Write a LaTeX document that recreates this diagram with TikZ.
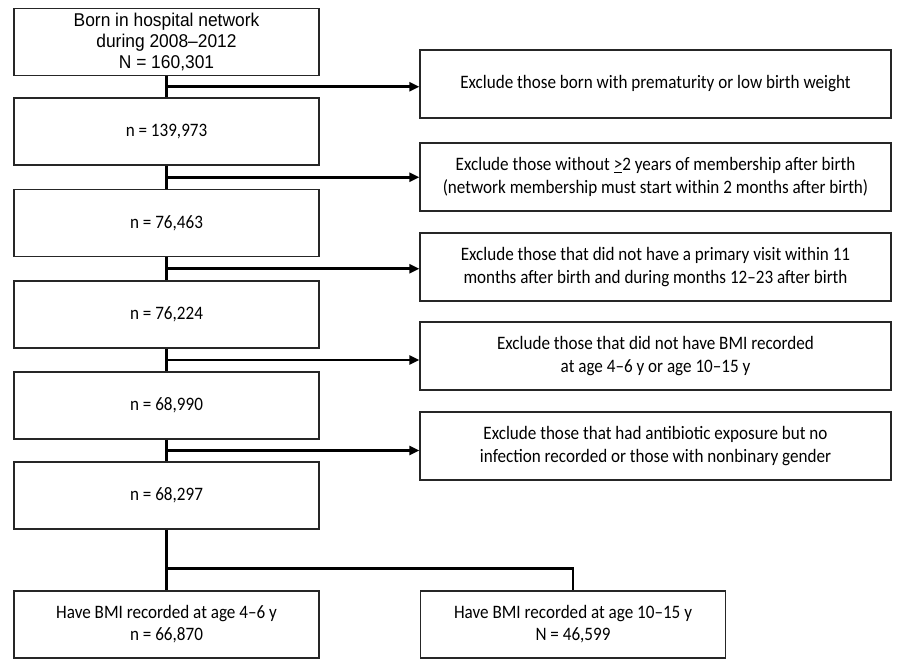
\documentclass[tikz,border=0pt]{standalone}
\usepackage{fontspec}
\setmainfont{Carlito}[FakeStretch=0.9]
\newfontfamily\arialfont{Liberation Sans}[FakeStretch=0.94]
\usetikzlibrary{calc, arrows.meta, positioning}

\begin{document}
\begin{tikzpicture}[
    x = 1pt, y = -1pt,
    font      = \fontsize{19}{23.5}\selectfont,
    box/.style  = {draw=black!85, line width=1.2pt, align=center, inner sep=2pt},
    lbox/.style = {box, minimum width=305pt, minimum height=67pt},
    xbox/.style = {box, minimum width=471pt, minimum height=68pt},
    flow/.style = {line width=2.8pt},
    excl/.style = {flow, -{Triangle[length=10pt, width=9pt]}}
  ]
  \useasboundingbox (0,0) rectangle (900,668);

  % linke Spalte: verbleibende Kohorte
  \node[lbox, font=\arialfont\fontsize{18.5}{21}\selectfont] (born) at (166.5,42)
       {Born in hospital network\\during 2008–2012\\N = 160,301};
  \node[lbox] (n1) at (166.5,131.5) {n = 139,973};
  \node[lbox] (n2) at (166.5,223)   {n = 76,463};
  \node[lbox] (n3) at (166.5,314.5) {n = 76,224};
  \node[lbox] (n4) at (166.5,405.5) {n = 68,990};
  \node[lbox] (n5) at (166.5,495.5) {n = 68,297};

  % rechte Spalte: Ausschluesse
  \node[xbox] (ex1) at (655.5,84)  {Exclude those born with prematurity or low birth weight};
  \node[xbox] (ex2) at (655.5,177) {Exclude those without \underline{>}2 years of membership after birth\\(network membership must start within 2 months after birth)};
  \node[xbox] (ex3) at (655.5,267) {Exclude those that did not have a primary visit within 11\\months after birth and during months 12–23 after birth};
  \node[xbox] (ex4) at (655.5,356) {Exclude those that did not have BMI recorded\\at age 4–6 y or age 10–15 y};
  \node[xbox] (ex5) at (655.5,446) {Exclude those that had antibiotic exposure but no\\infection recorded or those with nonbinary gender};

  % Endgruppen
  \node[lbox, font=\fontsize{19}{22}\selectfont] (young) at (166.5,624.5)
       {Have BMI recorded at age 4–6 y\\n = 66,870};
  \node[lbox, font=\fontsize{19}{22}\selectfont] (older) at (573,624.5)
       {Have BMI recorded at age 10–15 y\\N = 46,599};

  % Stamm und Abzweige
  \draw[flow] (born) -- (n1);
  \draw[flow] (n1) -- (n2);
  \draw[flow] (n2) -- (n3);
  \draw[flow] (n3) -- (n4);
  \draw[flow] (n4) -- (n5);

  \coordinate (j1) at ($(born.south)!0.5!(n1.north)$);
  \coordinate (j2) at ($(n1.south)!0.5!(n2.north)$);
  \coordinate (j3) at ($(n2.south)!0.5!(n3.north)$);
  \coordinate (j4) at ($(n3.south)!0.5!(n4.north)$);
  \coordinate (j5) at ($(n4.south)!0.5!(n5.north)$);
  \draw[excl] (j1) -- (j1 -| ex1.west);
  \draw[excl] (j2) -- (j2 -| ex2.west);
  \draw[excl] (j3) -- (j3 -| ex3.west);
  \draw[excl] (j4) -- (j4 -| ex4.west);
  \draw[excl] (j5) -- (j5 -| ex5.west);

  % Aufteilung nach Alter
  \coordinate (split) at ($(n5.south)+(0,39)$);
  \draw[flow] (n5) -- (young);
  \draw[flow] (split) -| (older.north);
\end{tikzpicture}
\end{document}
